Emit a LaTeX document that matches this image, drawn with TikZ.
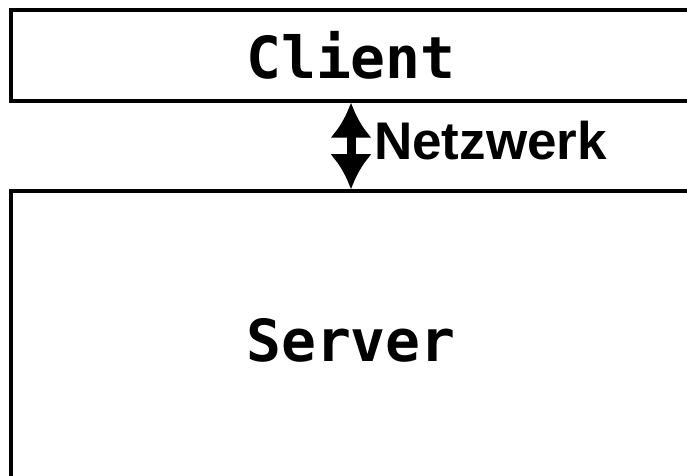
\documentclass[tikz,border=0pt]{standalone}
\usepackage{fontspec}
\usepackage{tikz}
\usetikzlibrary{
  arrows.meta,
  positioning
}
\newfontfamily\csmono{DejaVu Sans Mono Bold}
\newfontfamily\cssans{Liberation Sans Bold}
\definecolor{csLine}{HTML}{000000}
\tikzset{
  csnode/.style={
    draw=csLine, line width=3.5bp, minimum width=680bp, inner sep=0pt,
    font=\csmono\fontsize{58bp}{60bp}\selectfont, align=center
  },
  clientbox/.style={csnode, minimum height=91bp},
  serverbox/.style={csnode, minimum height=299bp},
  netlink/.style={{Latex[length=35bp, width=42bp]}-{Latex[length=35bp, width=42bp]}, line width=9bp, csLine},
  nettag/.style={font=\cssans\fontsize{53bp}{56bp}\selectfont, inner sep=0pt, anchor=base west}
}
\begin{document}
\begin{tikzpicture}[x=1bp, y=1bp, node distance=86.5bp]
  \useasboundingbox (0,0) rectangle (687,-476);
  \clip (0,0) rectangle (687,-476);
  \node[clientbox] (client) at (351,-55.5) {Client};
  \node[serverbox, below=of client] (server) {Server};
  \draw[netlink] (client.south) -- (server.north);
  \node[nettag] (net) at (374,-160) {Netzwerk};
\end{tikzpicture}
\end{document}
